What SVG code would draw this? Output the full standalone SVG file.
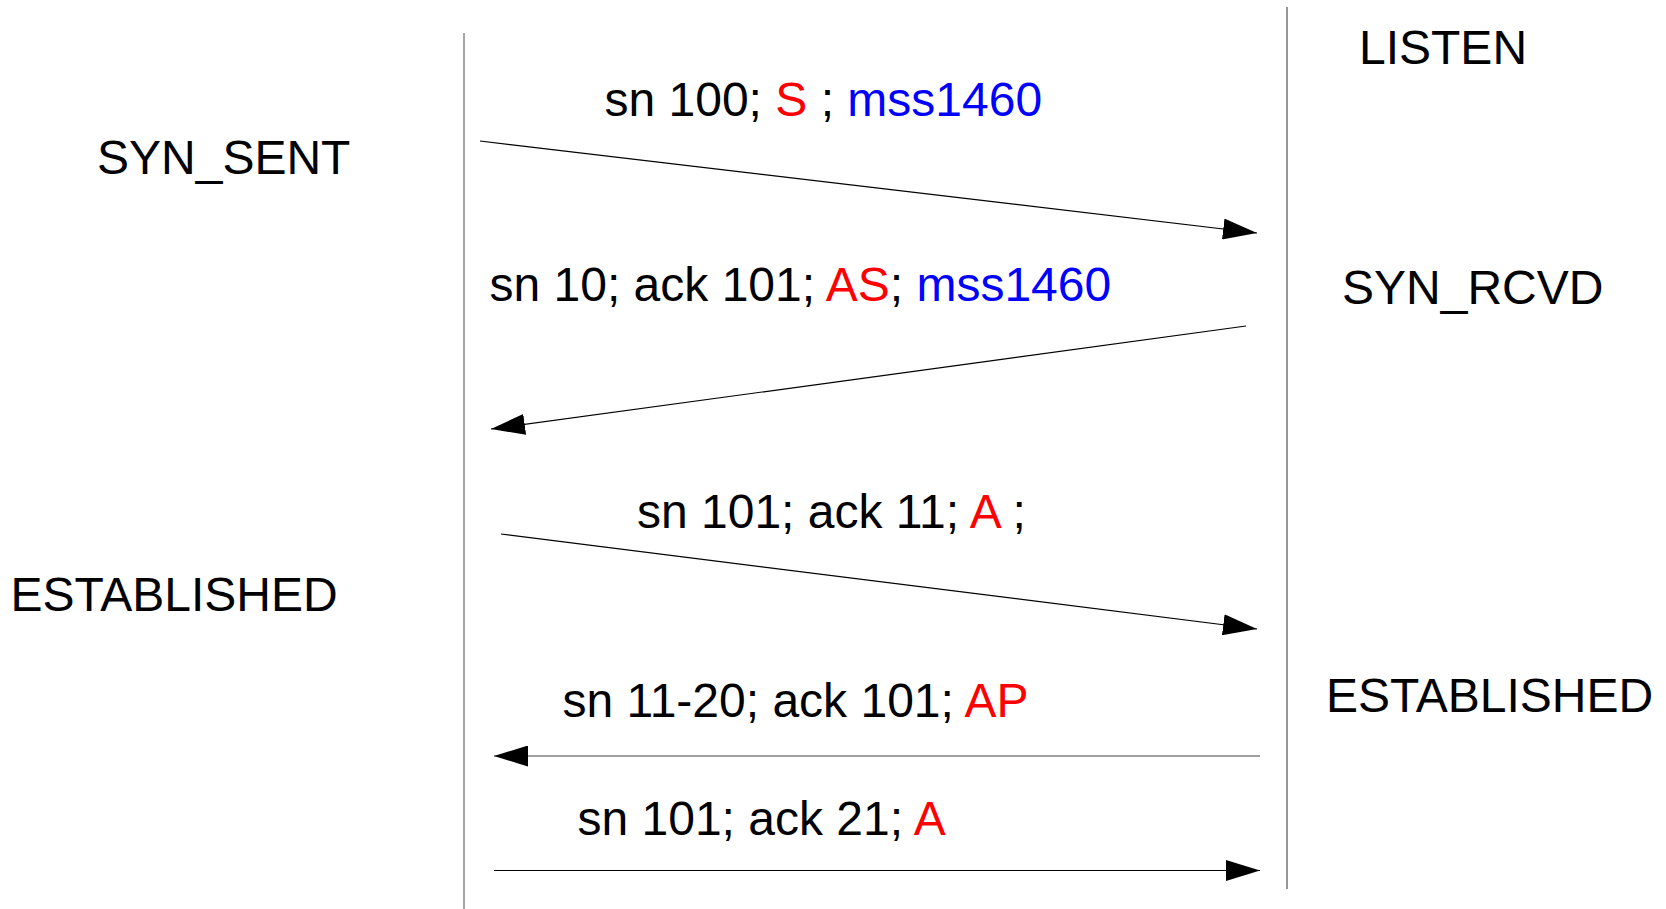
<svg xmlns="http://www.w3.org/2000/svg" width="1666" height="909" viewBox="0 0 1666 909">
<style>
text{font-family:"Liberation Sans",Arial,sans-serif;font-size:48px;fill:#000;}
.r{fill:#ff0000;}
.b{fill:#0000ff;}
.msg{stroke:#000;stroke-width:1.2;fill:none;}
.msgg{stroke:#7f7f7f;stroke-width:1.6;fill:none;}
</style>
<defs>
<marker id="ah" markerUnits="userSpaceOnUse" markerWidth="34" markerHeight="21" refX="34" refY="10.5" orient="auto">
<path d="M0,0 L34,10.5 L0,21 Z" fill="#000"/>
</marker>
</defs>
<rect width="1666" height="909" fill="#fff"/>
<g id="lifelines">
<line x1="464" y1="33" x2="464" y2="909" stroke="#7f7f7f" stroke-width="1.4"/>
<line x1="1287" y1="7" x2="1287" y2="889" stroke="#404040" stroke-width="1.1"/>
</g>
<g id="states">
<g id="listen"><text x="1359" y="64">LISTEN</text></g>
<g id="syn_sent"><text x="97" y="174">SYN_SENT</text></g>
<g id="syn_rcvd"><text x="1342" y="304">SYN_RCVD</text></g>
<g id="est_left"><text x="10.5" y="611">ESTABLISHED</text></g>
<g id="est_right"><text x="1326" y="712">ESTABLISHED</text></g>
</g>
<g id="connectors">
<line class="msg" x1="480" y1="141" x2="1257" y2="233" marker-end="url(#ah)"/>
<line class="msg" x1="1246" y1="326" x2="491" y2="429" marker-end="url(#ah)"/>
<line class="msg" x1="501" y1="534" x2="1257" y2="629" marker-end="url(#ah)"/>
<line class="msgg" x1="1260" y1="756" x2="494" y2="756" marker-end="url(#ah)"/>
<line class="msg" x1="494" y1="870.5" x2="1260" y2="870.5" marker-end="url(#ah)"/>
</g>
<g id="labels">
<text x="604.5" y="116" xml:space="preserve">sn 100; <tspan class="r">S</tspan> ; <tspan class="b">mss1460</tspan></text>
<text x="489.5" y="301" xml:space="preserve">sn 10; ack 101; <tspan class="r">AS</tspan>; <tspan class="b">mss1460</tspan></text>
<text x="637" y="528" xml:space="preserve">sn 101; ack 11; <tspan class="r">A</tspan> ;</text>
<text x="562.5" y="717" xml:space="preserve">sn 11-20; ack 101; <tspan class="r">AP</tspan></text>
<text x="577.5" y="835" xml:space="preserve">sn 101; ack 21; <tspan class="r">A</tspan></text>
</g>
</svg>
